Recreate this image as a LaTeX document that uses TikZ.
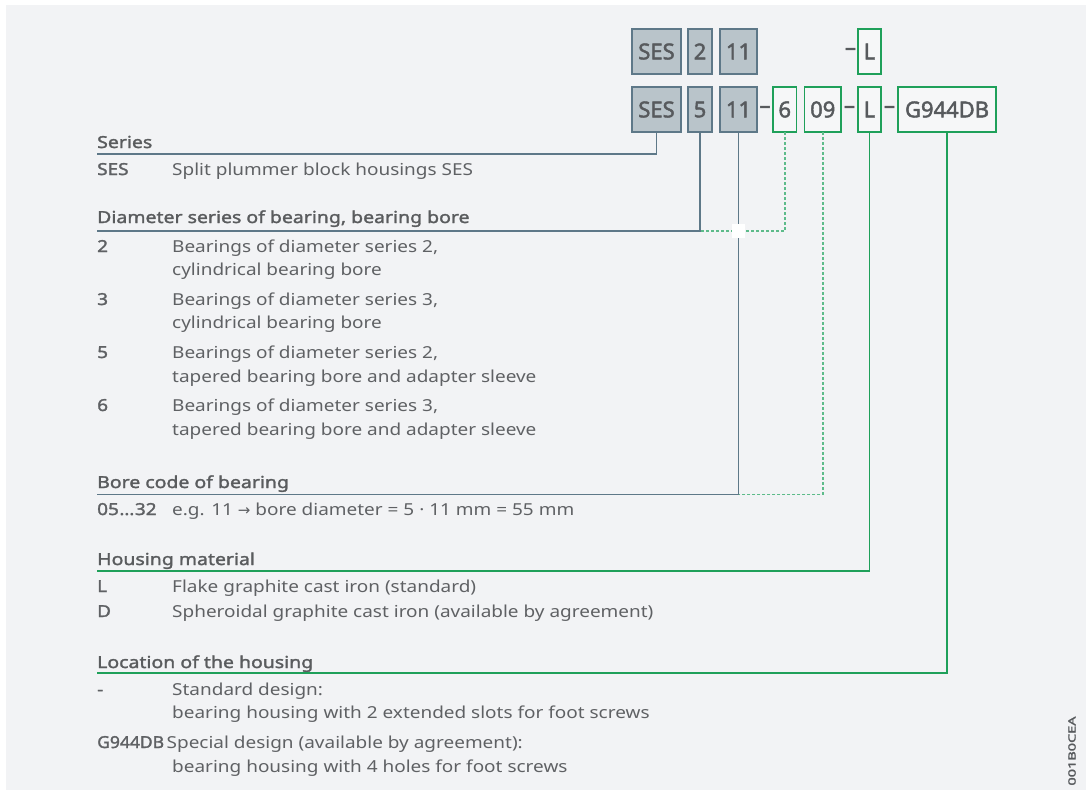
\documentclass[tikz,border=0pt]{standalone}
\usepackage{fontspec}
\setmainfont{Noto Sans}[AutoFakeBold=2]
\newfontfamily\bodyfam{Noto Sans}[AutoFakeBold=1.8, FakeStretch=1.15]
\newfontfamily\headfam{Noto Sans}[AutoFakeBold=1.8, FakeStretch=1.18]
\newfontfamily\narrowfam{Noto Sans}[AutoFakeBold=1.8, FakeStretch=1.06]
\newfontfamily\arrowfont{DejaVu Sans}
\usepackage{graphicx}
\usetikzlibrary{positioning}

\definecolor{panelbg}{HTML}{F2F3F5}
\definecolor{boxgrey}{HTML}{B9C4CA}
\definecolor{boxline}{HTML}{5E7888}
\definecolor{boxwhite}{HTML}{F6F7F8}
\definecolor{codegreen}{HTML}{1FA05A}
\definecolor{dashgreen}{HTML}{5DBB8A}
\definecolor{codetext}{HTML}{575A5D}
\definecolor{headtext}{HTML}{5A5C5E}
\definecolor{bodytext}{HTML}{5F6164}

\newcommand{\bodyfont}{\bodyfam\fontsize{16.5}{23}\selectfont}
\newcommand{\headfont}{\headfam\fontsize{16.5}{23}\selectfont\bfseries}
\newcommand{\codefont}{\fontsize{22}{26}\selectfont\bfseries}

\begin{document}
\begin{tikzpicture}[
  x=1pt, y=-1pt,
  cbox/.style={line width=1.4pt, inner sep=0pt, outer sep=0pt,
               minimum height=45pt, font=\codefont, text=codetext},
  gbox/.style={cbox, fill=boxgrey, draw=boxline},
  wbox/.style={cbox, fill=boxwhite, draw=codegreen},
  hyph/.style={inner sep=0pt, outer sep=0pt, minimum height=45pt,
               font=\codefont, text=codetext},
  head/.style={anchor=base west, inner sep=0pt, font=\headfont, text=headtext},
  key/.style={anchor=base west, inner sep=0pt, font=\bodyfont\bfseries, text=bodytext},
  desc/.style={anchor=base west, inner sep=0pt, font=\bodyfont, text=bodytext},
  gline/.style={draw=boxline, line width=1.4pt},
  grline/.style={draw=codegreen, line width=1.4pt},
  grdash/.style={draw=dashgreen, line width=1.5pt, dash pattern=on 3pt off 2pt},
  gap/.style={fill=white, inner sep=0pt, minimum width=13pt, minimum height=14pt}
]
  \useasboundingbox (0,0) rectangle (1086,793);
  \fill[panelbg] (6,5) rectangle (1086,790);

  % short designation
  \node[gbox, minimum width=49pt] (ses1) at (656.5,51.5) {SES};
  \node[gbox, minimum width=24pt, right=7pt of ses1] (t2) {2};
  \node[gbox, minimum width=37pt, right=8pt of t2] (t11) {11};
  \node[wbox, minimum width=23pt] (tL) at (869.5,51.5) {L};
  \node[hyph, left=2pt of tL] (th1) {--};

  % full designation
  \node[gbox, minimum width=49pt] (ses2) at (656.5,109.5) {SES};
  \node[gbox, minimum width=24pt, right=7pt of ses2] (d5) {5};
  \node[gbox, minimum width=37pt, right=8pt of d5] (b11) {11};
  \node[hyph, minimum width=16pt, right=0pt of b11] (h1) {--};
  \node[wbox, minimum width=23.5pt, right=0pt of h1] (d6) {6};
  \node[wbox, minimum width=36.5pt, right=8pt of d6] (b09) {09};
  \node[hyph, minimum width=17pt, right=0pt of b09] (h2) {--};
  \node[wbox, minimum width=23pt, right=0pt of h2] (mL) {L};
  \node[hyph, minimum width=17pt, right=0pt of mL] (h3) {--};
  \node[wbox, minimum width=98pt, right=0pt of h3] (lG) {G944DB};

  % series
  \node[head] (serhd) at (97,148) {Series};
  \coordinate (serend) at (97,154);
  \node[key] (serk) at (97,175) {SES};
  \node[desc] (serd) at (172,175) {Split plummer block housings SES};

  % diameter series, bore
  \node[head] (diahd) at (97,223) {Diameter series of bearing, bearing bore};
  \coordinate (diaend) at (97,231);
  \node[key] (dk2) at (97,252) {2};
  \node[desc] (dd2a) at (172,252) {Bearings of diameter series 2,};
  \node[desc] (dd2b) at (172,275) {cylindrical bearing bore};
  \node[key] (dk3) at (97,305) {3};
  \node[desc] (dd3a) at (172,305) {Bearings of diameter series 3,};
  \node[desc] (dd3b) at (172,328) {cylindrical bearing bore};
  \node[key] (dk5) at (97,358) {5};
  \node[desc] (dd5a) at (172,358) {Bearings of diameter series 2,};
  \node[desc] (dd5b) at (172,382) {tapered bearing bore and adapter sleeve};
  \node[key] (dk6) at (97,411) {6};
  \node[desc] (dd6a) at (172,411) {Bearings of diameter series 3,};
  \node[desc] (dd6b) at (172,435) {tapered bearing bore and adapter sleeve};

  % bore code
  \node[head] (borehd) at (97,488) {Bore code of bearing};
  \coordinate (boreend) at (97,494.5);
  \node[key] (borek) at (97,515) {05\kern0.5pt…\kern0.5pt32};
  \node[desc] (bored) at (172,515) {e.g. 11 {\arrowfont\fontsize{15}{15}\selectfont →} bore diameter = 5 · 11 mm = 55 mm};

  % housing material
  \node[head] (mathd) at (97,565) {Housing material};
  \coordinate (matend) at (97,571);
  \node[key] (matkL) at (97,592) {L};
  \node[desc] (matdL) at (172,592) {Flake graphite cast iron (standard)};
  \node[key] (matkD) at (97,617) {D};
  \node[desc] (matdD) at (172,617) {Spheroidal graphite cast iron (available by agreement)};

  % location
  \node[head] (lochd) at (97,668) {Location of the housing};
  \coordinate (locend) at (97,673);
  \node[key] (lock1) at (97,695) {-};
  \node[desc] (locd1a) at (172,695) {Standard design:};
  \node[desc] (locd1b) at (172,718) {bearing housing with 2 extended slots for foot screws};
  \node[key, font=\narrowfam\fontsize{16.5}{23}\selectfont\bfseries] (lock2) at (97,748) {G944DB};
  \node[desc] (locd2a) at (166.5,748) {Special design (available by agreement):};
  \node[desc] (locd2b) at (172,772) {bearing housing with 4 holes for foot screws};

  % leader lines
  \draw[gline] (ses2.south) |- (serend);
  \draw[gline] (d5.south) |- (diaend);
  \draw[grdash] (d6.south) |- (d5.south |- diaend);
  \draw[gline] (b11.south) |- (boreend);
  \draw[grdash] (b09.south) |- (b11.south |- boreend);
  \draw[grline] (mL.south) |- (matend);
  \draw[grline] (lG.south) |- (locend);
  \node[gap] (cross) at (b11.south |- diaend) {};

  \node[rotate=90, inner sep=0pt, font=\fontsize{10}{10}\selectfont\bfseries, text=codetext]
    (docid) at (1072,751) {\scalebox{1.45}[1]{001B0CEA}};
\end{tikzpicture}
\end{document}
